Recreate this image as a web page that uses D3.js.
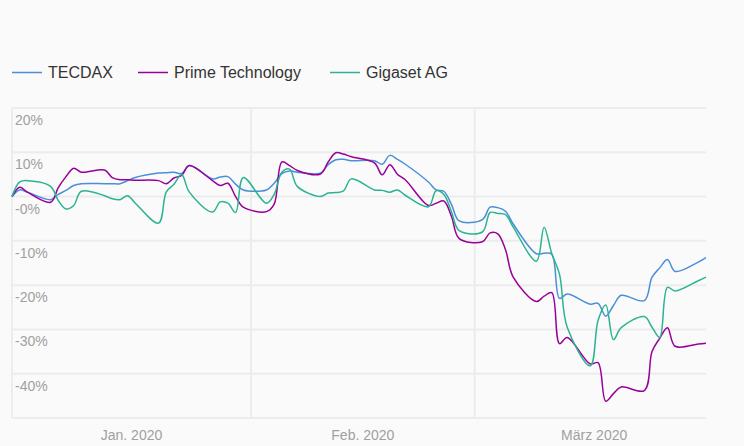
<!DOCTYPE html>
<html>
<head>
<meta charset="utf-8">
<script src="https://cdnjs.cloudflare.com/ajax/libs/d3/7.8.5/d3.min.js"></script>
<style>
  html, body { margin: 0; padding: 0; background: #fafafa; }
  #chart { width: 744px; height: 446px; }
</style>
</head>
<body>
<div id="chart"></div>
<script>
// trading days (2020) and performance in % since start
var dates = [
  '2020-01-01', '2020-01-02', '2020-01-03', '2020-01-06', '2020-01-07', '2020-01-08', '2020-01-09', '2020-01-10',
  '2020-01-13', '2020-01-14', '2020-01-15', '2020-01-16', '2020-01-17',
  '2020-01-20', '2020-01-21', '2020-01-22', '2020-01-23', '2020-01-24',
  '2020-01-27', '2020-01-28', '2020-01-29', '2020-01-30', '2020-01-31',
  '2020-02-03', '2020-02-04', '2020-02-05', '2020-02-06', '2020-02-07',
  '2020-02-10', '2020-02-11', '2020-02-12', '2020-02-13', '2020-02-14',
  '2020-02-17', '2020-02-18', '2020-02-19', '2020-02-20', '2020-02-21',
  '2020-02-24', '2020-02-25', '2020-02-26', '2020-02-27', '2020-02-28',
  '2020-03-02', '2020-03-03', '2020-03-04', '2020-03-05', '2020-03-06',
  '2020-03-09', '2020-03-10', '2020-03-11', '2020-03-12', '2020-03-13',
  '2020-03-16', '2020-03-17', '2020-03-18', '2020-03-19', '2020-03-20',
  '2020-03-23', '2020-03-24', '2020-03-25', '2020-03-26', '2020-03-27',
  '2020-03-30', '2020-03-31'
];

var tecdax = [
  0, 1.5, 1.0, -0.7, 0.5, 1.4, 2.5, 2.9,
  2.9, 2.9, 2.9, 3.6, 4.3,
  5.3, 5.4, 5.5, 5.2, 7.0,
  4.0, 4.4, 4.5, 2.8, 1.5,
  1.5, 3.0, 5.2, 5.8, 5.5,
  5.3, 7.2, 8.3, 8.4, 8.1,
  8.1, 7.3, 9.3, 8.4, 7.3,
  3.3, 1.5, 1.2, -1.8, -5.5,
  -5.2, -2.4, -2.5, -3.3, -6.2,
  -12.9, -12.8, -13.0, -23.0, -22.0,
  -24.3, -24.1, -27.0, -24.6, -22.3,
  -23.5, -18.2, -16.1, -14.2, -16.9,
  -14.8, -13.8
];

var prime = [
  0, 2.1, 1.0, -1.3, 2.0, 4.5, 6.4, 5.5,
  6.0, 4.3, 3.8, 3.8, 3.7,
  3.6, 2.9, 4.2, 4.8, 7.0,
  3.6, 2.5, 3.0, 0.0, -2.4,
  -3.4, -1.7, 7.8, 7.0, 5.9,
  5.1, 7.8, 9.9, 9.6, 9.0,
  7.6, 4.9, 7.2, 5.0, 3.8,
  -2.0, -1.5, -1.0, -4.5, -9.5,
  -10.2, -8.2, -8.4, -12.0, -18.2,
  -23.7, -22.5, -21.7, -33.2, -31.8,
  -37.8, -37.5, -46.2, -44.5, -43.0,
  -43.8, -35.0, -32.0, -29.6, -33.8,
  -33.3, -33.1
];

var gigaset = [
  0, 3.3, 3.6, 2.3, -0.9, -2.8, -2.0, 1.2,
  0.2, -0.5, -0.7, 0.2, -1.5,
  -6.0, 1.0, 2.8, 5.0, 1.0,
  -3.5, -1.2, -1.5, -3.6, 4.3,
  -1.5, 0.5, 5.5, 6.2, 2.3,
  0.0, 0.8, 0.9, 1.3, 4.0,
  1.5, 1.4, 1.0, 1.5, 0.3,
  -2.3, 1.3, 0.5, -3.5, -7.7,
  -8.0, -3.6, -3.8, -4.1, -6.9,
  -14.6, -6.9, -12.9, -17.5, -29.5,
  -38.2, -28.0, -24.5, -32.3, -29.6,
  -27.1, -29.5, -31.8, -20.5, -21.3,
  -19.0, -18.2
];

var seriesNames = ['TECDAX', 'Prime Technology', 'Gigaset AG'];
var seriesColors = ['#4a8fd8', '#990099', '#2bb392'];
var yTicks = [20, 10, 0, -10, -20, -30, -40, -50];
var monthStarts = ['2020-01-01', '2020-02-01', '2020-03-01'];
var monthLabels = ['Jan. 2020', 'Feb. 2020', 'März 2020'];

var parse = d3.timeParse('%Y-%m-%d');
var series = [tecdax, prime, gigaset].map(function (vals, i) {
  return {
    name: seriesNames[i],
    color: seriesColors[i],
    values: vals.map(function (v, j) { return { date: parse(dates[j]), value: v }; })
  };
});

var margin = { top: 108, right: 38, bottom: 28, left: 12 },
  width = 744 - margin.left - margin.right,
  height = 446 - margin.top - margin.bottom;

var svg = d3.select('#chart')
  .append('svg')
    .attr('width', 744)
    .attr('height', 446)
    .style('font-family', 'Helvetica, Arial, "Liberation Sans", sans-serif');

// legend
var legend = svg.append('g').attr('transform', 'translate(12,72)');
var legendX = [0, 126, 318];
series.forEach(function (s, i) {
  var g = legend.append('g').attr('transform', 'translate(' + legendX[i] + ',0)');
  g.append('line')
    .attr('x1', 0).attr('x2', 30).attr('y1', 0.5).attr('y2', 0.5)
    .attr('stroke', s.color).attr('stroke-width', 1.5);
  g.append('text')
    .attr('x', 36).attr('y', 6)
    .attr('fill', '#333')
    .style('font-size', '16px')
    .text(s.name);
});

var plot = svg.append('g')
  .attr('transform', 'translate(' + margin.left + ',' + margin.top + ')');

var x = d3.scaleTime()
  .domain([parse('2020-01-01'), parse('2020-03-31')])
  .range([0, width]);

var y = d3.scaleLinear()
  .domain([-50, 20])
  .range([height, 0]);

// horizontal grid
plot.append('g')
  .selectAll('line')
  .data(yTicks)
  .enter()
  .append('line')
    .attr('x1', 0).attr('x2', width)
    .attr('y1', function (d) { return y(d); })
    .attr('y2', function (d) { return y(d); })
    .attr('stroke', '#ececec')
    .attr('stroke-width', 2);

// vertical grid at month starts
plot.append('g')
  .selectAll('line')
  .data(monthStarts)
  .enter()
  .append('line')
    .attr('x1', function (d) { return x(parse(d)); })
    .attr('x2', function (d) { return x(parse(d)); })
    .attr('y1', 0).attr('y2', height)
    .attr('stroke', '#ececec')
    .attr('stroke-width', 2);

// y labels, under each gridline
plot.append('g')
  .selectAll('text')
  .data(yTicks.filter(function (d) { return d > -50; }))
  .enter()
  .append('text')
    .attr('x', 3)
    .attr('y', function (d) { return y(d) + 17; })
    .attr('fill', '#a0a0a0')
    .style('font-size', '14px')
    .text(function (d) { return (d === 0 ? '-0' : d) + '%'; });

// x labels, centered in each month
plot.append('g')
  .selectAll('text')
  .data(monthStarts)
  .enter()
  .append('text')
    .attr('x', function (d) {
      var s = parse(d);
      var e = d3.timeMonth.offset(s, 1);
      return (x(s) + x(e)) / 2;
    })
    .attr('y', height + 22)
    .attr('text-anchor', 'middle')
    .attr('fill', '#a0a0a0')
    .style('font-size', '14px')
    .text(function (d, i) { return monthLabels[i]; });

var line = d3.line()
  .x(function (d) { return x(d.date); })
  .y(function (d) { return y(d.value); })
  .curve(d3.curveCatmullRom.alpha(0.5));

plot.append('g')
  .selectAll('path')
  .data(series)
  .enter()
  .append('path')
    .attr('fill', 'none')
    .attr('stroke', function (d) { return d.color; })
    .attr('stroke-width', 1.5)
    .attr('d', function (d) { return line(d.values); });
</script>
</body>
</html>
